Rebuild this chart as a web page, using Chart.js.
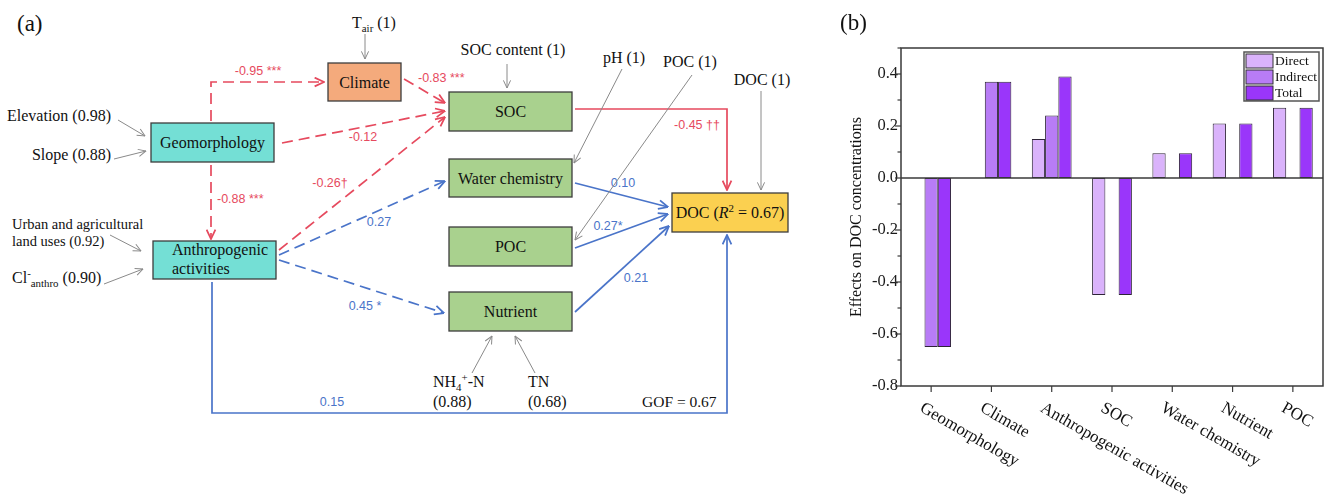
<!DOCTYPE html>
<html>
<head>
<meta charset="utf-8"/>
<style>
  body { margin:0; background:#fff; width:1330px; height:501px; overflow:hidden; position:relative; font-family:"Liberation Serif", serif; }
  #diagram { position:absolute; left:0; top:0; }
  #chart-holder { position:absolute; left:840px; top:0; width:490px; height:501px; }
</style>
</head>
<body>
<svg id="diagram" width="840" height="501" xmlns="http://www.w3.org/2000/svg"></svg>
<div id="chart-holder"><canvas id="effects" width="490" height="501"></canvas></div>

<script src="https://cdn.jsdelivr.net/npm/chart.js@4/dist/chart.umd.min.js"></script>
<script>
// ---- panel (b) data ----
var categories = ['Geomorphology', 'Climate', 'Anthropogenic activities', 'SOC', 'Water chemistry', 'Nutrient', 'POC'];
var directEffects   = [null, null, 0.15, -0.45, 0.095, 0.21, 0.27];
var indirectEffects = [-0.65, 0.37, 0.24, null, null, null, null];
var totalEffects    = [-0.65, 0.37, 0.39, -0.45, 0.095, 0.21, 0.27];
var seriesNames = ['Direct', 'Indirect', 'Total'];
var yMin = -0.8, yMax = 0.5, yStep = 0.1;

// ---- panel (a) data ----
var pathFrom = ['Geomorphology', 'Geomorphology', 'Climate', 'Geomorphology', 'Anthropogenic', 'Anthropogenic', 'Anthropogenic', 'SOC', 'Water chemistry', 'POC', 'Nutrient', 'Anthropogenic'];
var pathTo   = ['Climate', 'Anthropogenic', 'SOC', 'SOC', 'SOC', 'Water chemistry', 'Nutrient', 'DOC', 'DOC', 'DOC', 'DOC', 'DOC'];
var pathCoef = [-0.95, -0.88, -0.83, -0.12, -0.26, 0.27, 0.45, -0.45, 0.10, 0.27, 0.21, 0.15];
var pathSig  = [' ***', ' ***', ' ***', '', '\u2020', '', ' *', ' \u2020\u2020', '', '*', '', ''];
var indicatorLoadings = [1, 0.98, 0.88, 0.92, 0.90, 1, 1, 1, 1, 0.88, 0.68];
var gof = 0.67, docR2 = 0.67;

// ---------------- panel (a): path diagram ----------------
var NS = 'http://www.w3.org/2000/svg';
var svg = document.getElementById('diagram');
var RED = '#E64A5E', BLUE = '#4A74C9', GRAY = '#8a8a8a';

function el(tag, attrs, parent) {
  var e = document.createElementNS(NS, tag);
  for (var k in attrs) e.setAttribute(k, attrs[k]);
  (parent || svg).appendChild(e);
  return e;
}

// parts: [text, 'sub'|'sup'|'it'|undefined]
function richText(x, y, parts, size, anchor, color, family) {
  var t = el('text', { x: x, y: y, 'font-size': size, 'text-anchor': anchor || 'start', fill: color || '#111',
    'font-family': family || '"Liberation Serif", serif' });
  var cur = 0;
  parts.forEach(function (p) {
    var shift = p[1] === 'sub' ? 4 : (p[1] === 'sup' ? -6 : 0);
    var attrs = { dy: shift - cur };
    if (p[1] === 'sub' || p[1] === 'sup') attrs['font-size'] = size * 0.68;
    if (p[1] === 'it') attrs['font-style'] = 'italic';
    var s = el('tspan', attrs, t);
    s.textContent = p[0];
    cur = shift;
  });
  return t;
}

var defs = el('defs', {});
function marker(id, color, size, w) {
  var m = el('marker', { id: id, viewBox: '0 0 10 10', refX: 9.5, refY: 5, markerWidth: size, markerHeight: size,
    markerUnits: 'userSpaceOnUse', orient: 'auto' }, defs);
  el('path', { d: 'M1,1 L9.5,5 L1,9', fill: 'none', stroke: color, 'stroke-width': w }, m);
}
marker('ah-red', RED, 11, 1.6);
marker('ah-blue', BLUE, 11, 1.6);
marker('ah-gray', GRAY, 9, 1.1);

// panel letter
richText(17, 31, [['(a)']], 23);

// node boxes
var nodeBox = {
  'Climate':         { x: 328, y: 63,  w: 73,  h: 38, fill: '#F4AA7C' },
  'Geomorphology':   { x: 151, y: 123, w: 123, h: 39, fill: '#74DFD5' },
  'Anthropogenic':   { x: 153, y: 241, w: 123, h: 38, fill: '#74DFD5' },
  'SOC':             { x: 449, y: 92,  w: 123, h: 39, fill: '#A9D18E' },
  'Water chemistry': { x: 449, y: 159, w: 123, h: 38, fill: '#A9D18E' },
  'POC':             { x: 449, y: 227, w: 123, h: 39, fill: '#A9D18E' },
  'Nutrient':        { x: 449, y: 292, w: 123, h: 39, fill: '#A9D18E' },
  'DOC':             { x: 672, y: 193, w: 116, h: 39, fill: '#FBD050' }
};

// paths (geometry only; values come from the arrays above)
var pathLayout = [
  { pts: [[211, 121], [211, 82], [324, 82]], lab: [258, 71] },
  { pts: [[211, 165], [211, 239]], lab: [217, 199], align: 'start' },
  { pts: [[404, 79], [445, 103]], lab: [418, 78], align: 'start' },
  { pts: [[282, 143], [445, 111]], lab: [363, 137] },
  { pts: [[279, 250], [445, 117]], lab: [330, 183] },
  { pts: [[279, 255], [445, 181]], lab: [379, 222] },
  { pts: [[279, 260], [444, 313]], lab: [365, 306] },
  { pts: [[575, 109], [727, 109], [727, 190]], lab: [697, 125] },
  { pts: [[575, 183], [668, 207]], lab: [623, 183] },
  { pts: [[575, 248], [668, 214]], lab: [608, 226] },
  { pts: [[575, 312], [669, 226]], lab: [636, 278] },
  { pts: [[212, 282], [212, 413], [727, 413], [727, 235]], lab: [332, 402] }
];

pathFrom.forEach(function (from, i) {
  var L = pathLayout[i];
  var color = pathCoef[i] < 0 ? RED : BLUE;
  var dashed = pathTo[i] !== 'DOC';
  var attrs = { points: L.pts.map(function (p) { return p.join(','); }).join(' '), fill: 'none', stroke: color,
    'stroke-width': 1.7, 'marker-end': 'url(#' + (pathCoef[i] < 0 ? 'ah-red' : 'ah-blue') + ')' };
  if (dashed) attrs['stroke-dasharray'] = '11,6';
  el('polyline', attrs);
  richText(L.lab[0], L.lab[1] + 4.3, [[pathCoef[i].toFixed(2) + pathSig[i]]], 12.5, L.align || 'middle', color,
    '"Liberation Sans", Arial, sans-serif');
});

// indicator arrows and labels
function fmtLoad(v) { return '(' + (v === 1 ? '1' : v.toFixed(2)) + ')'; }
var indicatorLayout = [
  { lines: [[['T'], ['air', 'sub'], [' ']]], x: 352, y: 28, arrow: [365, 34, 365, 59] },
  { lines: [[['Elevation ']]], x: 111, y: 120.5, anchor: 'end', arrow: [118, 120, 145, 136] },
  { lines: [[['Slope ']]], x: 111, y: 160, anchor: 'end', arrow: [114, 159, 146, 151] },
  { lines: [[['Urban and agricultural']], [['land uses ']]], x: 12, y: 229, size: 14.5, gap: 17, arrow: [110, 235, 141, 251] },
  { lines: [[['Cl'], ['-', 'sup'], ['anthro', 'sub'], [' ']]], x: 12, y: 283, arrow: [104, 284, 143, 269] },
  { lines: [[['SOC content ']]], x: 513, y: 55, anchor: 'middle', arrow: [507, 64, 507, 88] },
  { lines: [[['pH ']]], x: 624, y: 63, anchor: 'middle', arrow: [622, 69, 574, 163] },
  { lines: [[['POC ']]], x: 690, y: 67, anchor: 'middle', arrow: [692, 75, 575, 240] },
  { lines: [[['DOC ']]], x: 762, y: 85, anchor: 'middle', arrow: [761, 91, 761, 190] },
  { lines: [[['NH'], ['4', 'sub'], ['+', 'sup'], ['-N']], [[]]], x: 433, y: 387, gap: 20, arrow: [472, 373, 492, 336] },
  { lines: [[['TN']], [[]]], x: 528, y: 387, gap: 20, arrow: [535, 373, 515, 336] }
];

indicatorLayout.forEach(function (L, i) {
  el('line', { x1: L.arrow[0], y1: L.arrow[1], x2: L.arrow[2], y2: L.arrow[3], stroke: GRAY, 'stroke-width': 1,
    'marker-end': 'url(#ah-gray)' });
  L.lines.forEach(function (parts, j) {
    var p = parts.filter(function (q) { return q.length; }).slice();
    if (j === L.lines.length - 1) p.push([fmtLoad(indicatorLoadings[i])]);
    richText(L.x, L.y + j * (L.gap || 0), p, L.size || 16, L.anchor || 'start');
  });
});

// node boxes drawn over lines
Object.keys(nodeBox).forEach(function (k) {
  var b = nodeBox[k];
  el('rect', { x: b.x, y: b.y, width: b.w, height: b.h, fill: b.fill, stroke: '#3d3d3d', 'stroke-width': 1.3 });
  var cx = b.x + b.w / 2, cy = b.y + b.h / 2 + 5.5;
  if (k === 'Anthropogenic') {
    richText(172, 255, [['Anthropogenic']], 16);
    richText(172, 274, [['activities']], 16);
  } else if (k === 'DOC') {
    richText(cx, cy, [['DOC ('], ['R', 'it'], ['2', 'sup'], [' = ' + docR2.toFixed(2) + ')']], 16, 'middle');
  } else {
    richText(cx, cy, [[k]], 16, 'middle');
  }
});

richText(642, 407, [['GOF = ' + gof.toFixed(2)]], 15.5);

// ---------------- panel (b): bar chart ----------------
var barColors = ['#DAB3FB', '#B87CF6', '#9A36FA'];
var serif = '"Liberation Serif", serif';

var originPlugin = {
  id: 'originStyle',
  afterDraw: function (chart) {
    var ctx = chart.ctx, a = chart.chartArea, xs = chart.scales.x, ys = chart.scales.y;
    ctx.save();
    ctx.strokeStyle = '#3a3a3a';
    ctx.lineWidth = 1.5;
    ctx.strokeRect(a.left, a.top, a.right - a.left, a.bottom - a.top);
    var y0 = ys.getPixelForValue(0);
    ctx.beginPath(); ctx.moveTo(a.left, y0); ctx.lineTo(a.right, y0); ctx.stroke();

    ctx.lineWidth = 1.2;
    ys.ticks.forEach(function (t) {
      var py = ys.getPixelForValue(t.value);
      var major = Math.round(t.value * 10) % 2 === 0;
      ctx.beginPath(); ctx.moveTo(a.left, py); ctx.lineTo(a.left - (major ? 6 : 3.5), py); ctx.stroke();
    });

    ctx.font = '17px ' + serif;
    ctx.fillStyle = '#111';
    ctx.textAlign = 'left';
    ctx.textBaseline = 'middle';
    categories.forEach(function (c, i) {
      var px = xs.getPixelForValue(i);
      ctx.beginPath(); ctx.moveTo(px, a.bottom); ctx.lineTo(px, a.bottom + 6); ctx.stroke();
      ctx.save();
      ctx.translate(px - 10, a.bottom + 21);
      ctx.rotate(Math.PI / 6);
      ctx.fillText(c, 0, 0);
      ctx.restore();
    });

    // y title
    ctx.save();
    ctx.font = '16px ' + serif;
    ctx.translate(17, (a.top + a.bottom) / 2);
    ctx.rotate(-Math.PI / 2);
    ctx.textAlign = 'center';
    ctx.fillText('Effects on DOC concentrations', 0, 0);
    ctx.restore();

    // panel letter
    ctx.font = '23px ' + serif;
    ctx.textBaseline = 'alphabetic';
    ctx.fillText('(b)', 0, 30);

    // legend
    var lx = a.right - 79, ly = a.top + 4;
    ctx.lineWidth = 1.5;
    ctx.strokeStyle = '#555';
    ctx.strokeRect(lx, ly, 75, 49);
    ctx.font = '13.5px ' + serif;
    ctx.textBaseline = 'middle';
    chart.data.datasets.forEach(function (ds, i) {
      var sy = ly + 2 + i * 16;
      ctx.fillStyle = ds.backgroundColor;
      ctx.fillRect(lx + 2, sy, 27, 14);
      ctx.lineWidth = 1;
      ctx.strokeStyle = '#333';
      ctx.strokeRect(lx + 2, sy, 27, 14);
      ctx.fillStyle = '#111';
      ctx.fillText(ds.label, lx + 31, sy + 7.5);
    });
    ctx.restore();
  }
};

var ctx = document.getElementById('effects').getContext('2d');
var chart = new Chart(ctx, {
  type: 'bar',
  data: {
    labels: categories,
    datasets: [directEffects, indirectEffects, totalEffects].map(function (d, i) {
      return { label: seriesNames[i], data: d, backgroundColor: barColors[i], borderColor: '#2e2438',
        borderWidth: 1, borderSkipped: false, categoryPercentage: 0.66, barPercentage: 1 };
    })
  },
  options: {
    responsive: false,
    animation: false,
    devicePixelRatio: 1,
    layout: { padding: { top: 48, right: 7, left: 0, bottom: 0 } },
    plugins: { legend: { display: false }, tooltip: { enabled: false } },
    scales: {
      x: {
        offset: true,
        grid: { display: false },
        border: { display: false },
        ticks: { display: false },
        afterFit: function (s) { s.height = 115; }
      },
      y: {
        min: yMin, max: yMax,
        grid: { display: false, drawTicks: false },
        border: { display: false },
        ticks: {
          stepSize: yStep, padding: 3, color: '#1a1a1a', font: { family: serif, size: 16.5 },
          callback: function (v) { return Math.round(v * 10) % 2 === 0 ? v.toFixed(1) : ''; }
        },
        afterFit: function (s) { s.width = 61; }
      }
    }
  },
  plugins: [originPlugin]
});
</script>
</body>
</html>
